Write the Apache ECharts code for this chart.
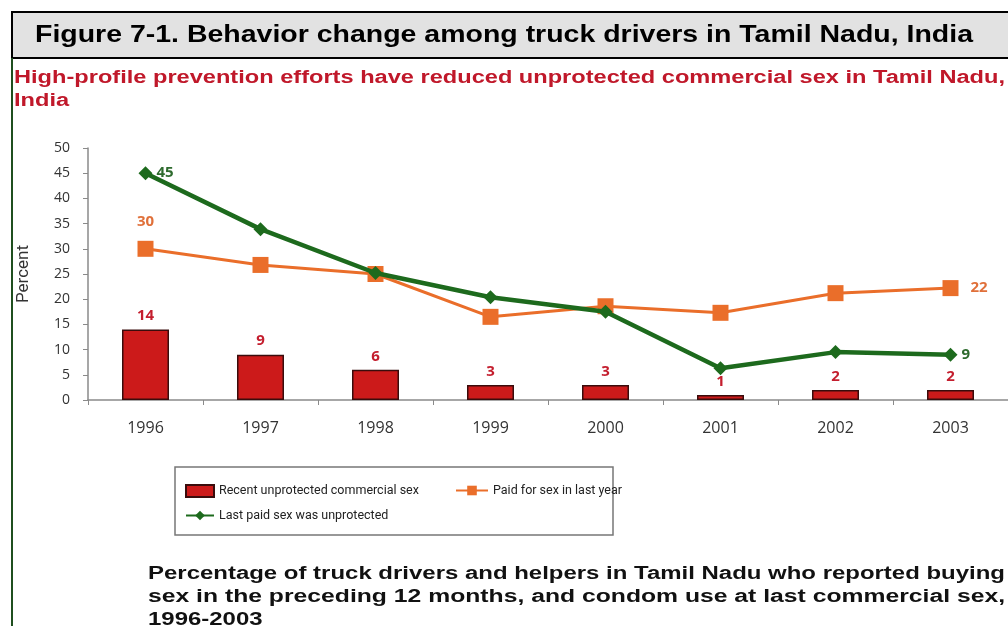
<!DOCTYPE html>
<html>
<head>
<meta charset="utf-8">
<script src="https://cdn.jsdelivr.net/npm/echarts@6/dist/echarts.min.js"></script>
<style>
  html, body { margin: 0; padding: 0; background: #fff; }
  #chart { width: 1008px; height: 626px; }
</style>
</head>
<body>
<div id="chart"></div>
<script>
// data
const years = ['1996', '1997', '1998', '1999', '2000', '2001', '2002', '2003'];
const recentUnprotected = [14, 9, 6, 3, 3, 1, 2, 2];
const paidLastYear = [30, 26.8, 25, 16.5, 18.6, 17.3, 21.2, 22.2];
const lastPaidUnprotected = [45, 33.9, 25.2, 20.4, 17.5, 6.3, 9.5, 9];
const endLabels = { paid: ['30', '22'], unprot: ['45', '9'] };
const headerText = 'Figure 7-1. Behavior change among truck drivers in Tamil Nadu, India';
const subtitleLines = [
   'High-profile prevention efforts have reduced unprotected commercial sex in Tamil Nadu,',
   'India'
];
const captionLines = [
   'Percentage of truck drivers and helpers in Tamil Nadu who reported buying',
   'sex in the preceding 12 months, and condom use at last commercial sex,',
   '1996-2003'
];

const chart = echarts.init(document.getElementById('chart'));
const last = years.length - 1;

const lineData = (vals, firstPos, lastPos, txt) => vals.map((v, i) => ({
   value: v,
   label: {
      show: i === 0 || i === last,
      position: i === 0 ? firstPos : lastPos,
      formatter: i === 0 ? txt[0] : txt[1]
   }
}));

// the scan is stretched sideways, so text is widened to the width it takes there
const ctx = document.createElement('canvas').getContext('2d');
const measure = (t, font) => { ctx.font = font; return ctx.measureText(t).width; };
const wideText = (t, x, y, font, fill, sx) => ({
   type: 'text', x, y, scaleX: sx, silent: true,
   style: { text: t, font, fill }
});
const fitText = (t, x, y, font, fill, width) => wideText(t, x, y, font, fill, width / measure(t, font));

const headFont = 'bold 24px "Liberation Sans"';
const subFont = 'bold 18px "Liberation Sans"';
const capFont = 'bold 18px "Liberation Sans"';
const subScale = 991 / measure(subtitleLines[0], subFont);
const capScale = 857 / measure(captionLines[0], capFont);

const texts = [
   fitText(headerText, 35, 23, headFont, '#000', 938),
   wideText(subtitleLines[0], 14, 69, subFont, '#c0182a', subScale),
   wideText(subtitleLines[1], 14, 92, subFont, '#c0182a', subScale),
   wideText(captionLines[0], 148, 565, capFont, '#111', capScale),
   fitText(captionLines[1], 148, 588, capFont, '#111', 857),
   wideText(captionLines[2], 148, 611, capFont, '#111', capScale)
];

const legendText = { fontSize: 12.5, color: '#222', fontFamily: 'Roboto' };

const option = {
   animation: false,
   grid: { left: 88, top: 148, width: 952, height: 252 },
   xAxis: {
      type: 'category',
      data: years,
      boundaryGap: true,
      axisLine: { lineStyle: { color: '#8a8a8a', width: 1.5 } },
      axisTick: { show: true, length: 5, lineStyle: { color: '#8a8a8a' } },
      axisLabel: { margin: 20, fontSize: 16, color: '#333', fontFamily: 'Open Sans' }
   },
   yAxis: {
      type: 'value',
      min: 0, max: 50, interval: 5,
      name: 'Percent',
      nameLocation: 'middle',
      nameGap: 56,
      nameTextStyle: { fontSize: 17, color: '#333', fontFamily: 'Roboto' },
      splitLine: { show: false },
      axisLine: { show: true, lineStyle: { color: '#8a8a8a', width: 1.5 } },
      axisTick: { show: true, length: 5, lineStyle: { color: '#8a8a8a' } },
      axisLabel: { margin: 18, fontSize: 14, color: '#333', fontFamily: 'Open Sans' }
   },
   legend: [
      {
         data: [{ name: 'Recent unprotected commercial sex', icon: 'rect' }],
         left: 185, top: 484, padding: 0, itemGap: 6, itemWidth: 28, itemHeight: 12, textStyle: legendText
      },
      {
         data: ['Paid for sex in last year'],
         left: 455, top: 484, padding: 0, itemWidth: 32, itemHeight: 12, textStyle: legendText
      },
      {
         data: ['Last paid sex was unprotected'],
         left: 185, top: 509, padding: 0, itemWidth: 28, itemHeight: 12, textStyle: legendText
      }
   ],
   series: [
      {
         name: 'Recent unprotected commercial sex',
         type: 'bar',
         data: recentUnprotected,
         barWidth: 47,
         itemStyle: { color: '#cc1a1a', borderColor: '#3a0c0c', borderWidth: 1.5 },
         label: {
            show: true, position: 'top', distance: 6,
            color: '#c41e2e', fontSize: 15, fontWeight: 'bold', fontFamily: 'Open Sans'
         }
      },
      {
         name: 'Paid for sex in last year',
         type: 'line',
         data: lineData(paidLastYear, 'top', 'right', endLabels.paid),
         symbol: 'rect',
         symbolSize: 16,
         lineStyle: { color: '#ea6e2a', width: 3 },
         itemStyle: { color: '#ea6e2a' },
         label: { color: '#e0703a', fontSize: 15, fontWeight: 'bold', fontFamily: 'Open Sans', distance: 12 },
         z: 3
      },
      {
         name: 'Last paid sex was unprotected',
         type: 'line',
         data: lineData(lastPaidUnprotected, 'right', 'right', endLabels.unprot),
         symbol: 'diamond',
         symbolSize: 14,
         lineStyle: { color: '#1d6a1d', width: 4.5 },
         itemStyle: { color: '#1d6a1d' },
         label: { color: '#2e6b2e', fontSize: 15, fontWeight: 'bold', fontFamily: 'Open Sans', distance: 4 },
         z: 4
      }
   ],
   graphic: [
      // header band
      { type: 'rect', shape: { x: 12, y: 12, width: 1000, height: 46 },
        style: { fill: '#e2e2e2', stroke: '#000', lineWidth: 2 }, silent: true },
      // green left rule
      { type: 'line', shape: { x1: 12, y1: 58, x2: 12, y2: 626 },
        style: { stroke: '#1f4f1f', lineWidth: 2 } },
      // legend frame
      { type: 'rect', shape: { x: 175, y: 467, width: 438, height: 68 },
        style: { fill: 'none', stroke: '#777', lineWidth: 1.5 }, silent: true, z: -1 }
   ].concat(texts)
};
chart.setOption(option);
</script>
</body>
</html>
